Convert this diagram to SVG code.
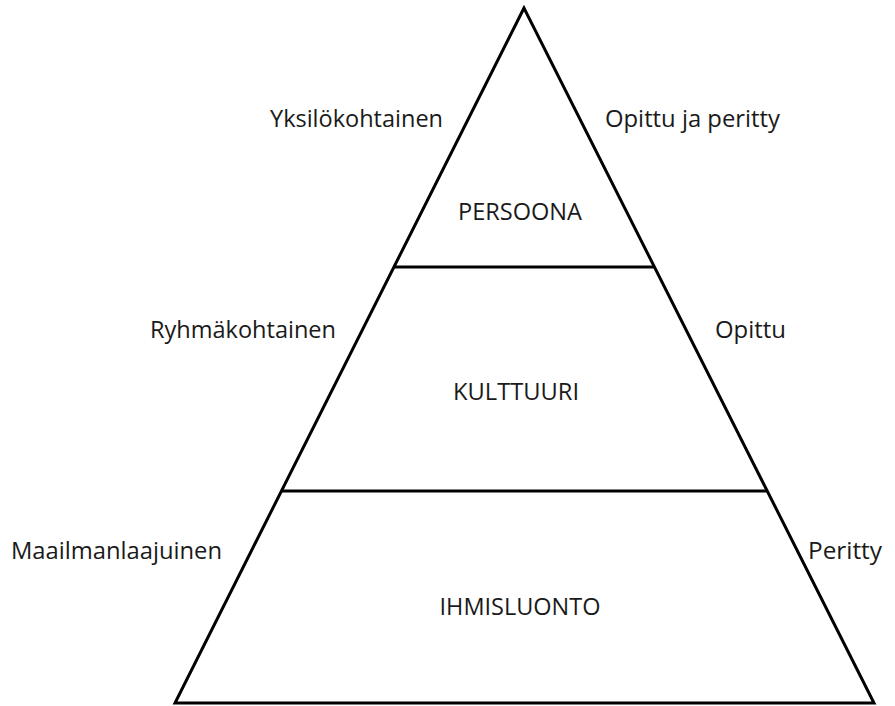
<svg xmlns="http://www.w3.org/2000/svg" width="895" height="706" viewBox="0 0 895 706">
  <style>
    .edge { fill: none; stroke: #000; stroke-width: 3; stroke-linejoin: miter; }
    .div { stroke: #000; stroke-width: 3; }
    text { font-family: "Open Sans", "Liberation Sans", sans-serif; font-size: 24px; fill: #1a1a1a; }
    .mid { text-anchor: middle; }
  </style>
  <rect width="895" height="706" fill="#fff"/>

  <!-- pyramid outline and level dividers -->
  <g id="connectors">
    <polygon class="edge" points="524,8 175,703 874,703"/>
    <line class="div" x1="393" y1="267" x2="655" y2="267"/>
    <line class="div" x1="281" y1="491" x2="767" y2="491"/>
  </g>

  <!-- top level -->
  <g id="persoona">
    <text x="520" y="220" class="mid" textLength="124" lengthAdjust="spacingAndGlyphs">PERSOONA</text>
    <text x="270" y="127" textLength="173" lengthAdjust="spacingAndGlyphs">Yksilökohtainen</text>
    <text x="605" y="127" textLength="175" lengthAdjust="spacingAndGlyphs">Opittu ja peritty</text>
  </g>

  <!-- middle level -->
  <g id="kulttuuri">
    <text x="516" y="400" class="mid" textLength="126" lengthAdjust="spacingAndGlyphs">KULTTUURI</text>
    <text x="150" y="338" textLength="186" lengthAdjust="spacingAndGlyphs">Ryhmäkohtainen</text>
    <text x="715" y="338" textLength="71" lengthAdjust="spacingAndGlyphs">Opittu</text>
  </g>

  <!-- bottom level -->
  <g id="ihmisluonto">
    <text x="520" y="615" class="mid" textLength="161" lengthAdjust="spacingAndGlyphs">IHMISLUONTO</text>
    <text x="11" y="559" textLength="211" lengthAdjust="spacingAndGlyphs">Maailmanlaajuinen</text>
    <text x="808" y="559" textLength="74" lengthAdjust="spacingAndGlyphs">Peritty</text>
  </g>
</svg>
